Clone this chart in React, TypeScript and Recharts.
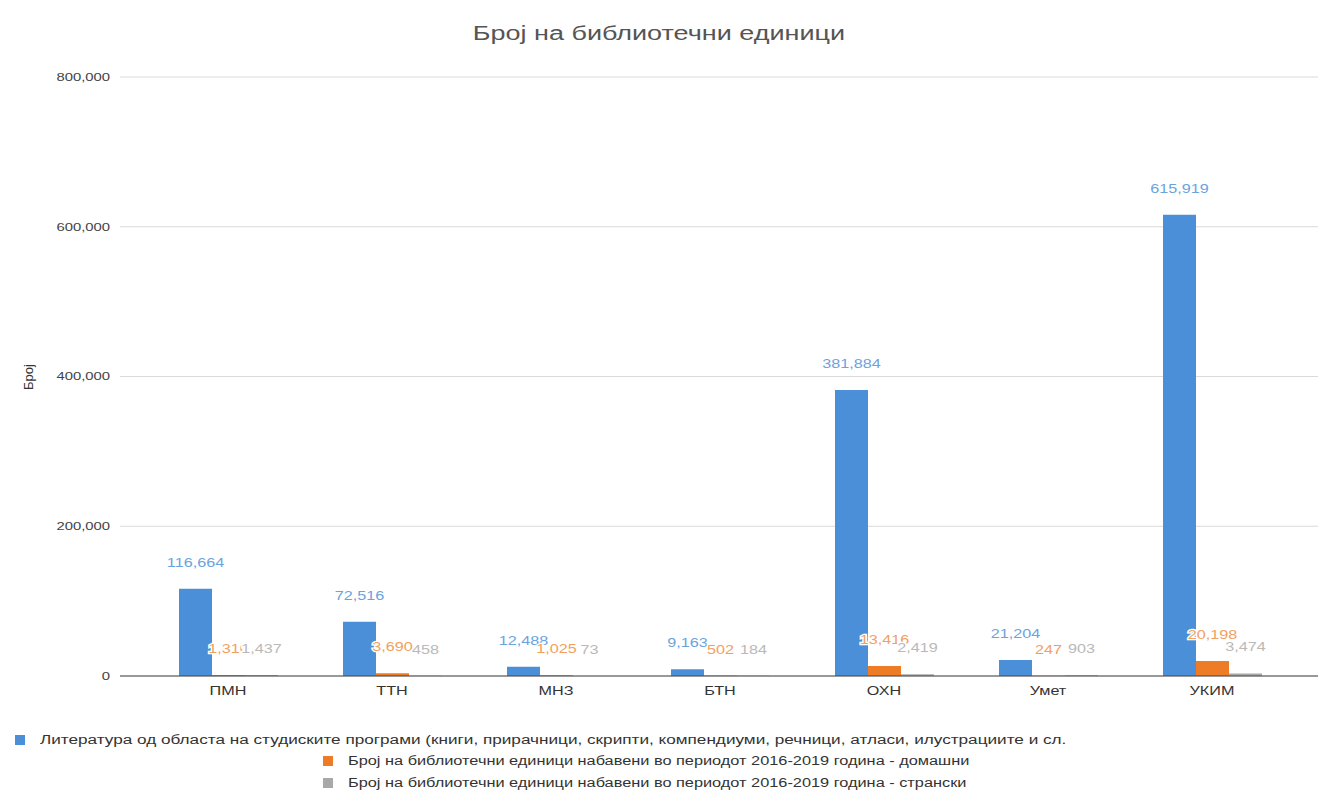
import React from 'react';
import { BarChart, Bar, XAxis, YAxis, CartesianGrid, LabelList } from 'recharts';

const categories = ['ПМН', 'ТТН', 'МНЗ', 'БТН', 'ОХН', 'Умет', 'УКИМ'];
const literature = [116664, 72516, 12488, 9163, 381884, 21204, 615919];
const domestic = [1310, 3690, 1025, 502, 13416, 247, 20198];
const foreign = [1437, 458, 73, 184, 2419, 903, 3474];
const yTicks = [0, 200000, 400000, 600000, 800000];

const seriesNames = [
    'Литература од областа на студиските програми (книги, прирачници, скрипти, компендиуми, речници, атласи, илустрациите и сл.',
    'Број на библиотечни единици набавени во периодот 2016-2019 година - домашни',
    'Број на библиотечни единици набавени во периодот 2016-2019 година - странски',
];
const barColors = ['#4a8fd8', '#ee7b25', '#a8a8a8'];
const labelColors = ['#6aa3e0', '#f2a05e', '#b9b9b9'];

const data = categories.map((name, i) => ({
    name,
    literature: literature[i],
    domestic: domestic[i],
    foreign: foreign[i],
}));

const SX = 1.35; // source picture is stretched horizontally
const FONT = '"Liberation Sans", Arial, sans-serif';
const fmt = (v: number) => v.toLocaleString('en-US');

const YTick = (props: any) => {
    const { x, y, payload } = props;
    return (
        <g transform={`translate(${x},${y}) scale(${SX},1)`}>
            <text x={0} y={0} dy="0.35em" textAnchor="end" fontSize={11} fill="#444" fontFamily={FONT}>
                {fmt(payload.value)}
            </text>
        </g>
    );
};

const XTick = (props: any) => {
    const { x, y, payload } = props;
    return (
        <g transform={`translate(${x},${y}) scale(${SX},1)`}>
            <text x={0} y={0} dy="0.9em" textAnchor="middle" fontSize={12} fill="#333" fontFamily={FONT}>
                {payload.value}
            </text>
        </g>
    );
};

// value labels sit above each bar, with a white halo like the original
const makeLabel = (color: string) => (props: any) => {
    const { x, y, width, value } = props;
    const cx = Number(x) + Number(width) / 2;
    return (
        <g transform={`translate(${cx},${Number(y) - 22}) scale(${SX},1)`}>
            <text
                x={0}
                y={0}
                textAnchor="middle"
                fontSize={12}
                fill={color}
                stroke="#fff"
                strokeWidth={2.5}
                paintOrder="stroke"
                fontFamily={FONT}
            >
                {fmt(value)}
            </text>
        </g>
    );
};

const legendRows = [
    { left: 15, top: 733, sx: 1.43 },
    { left: 323, top: 754, sx: 1.36 },
    { left: 323, top: 776, sx: 1.36 },
];

export default function App() {
    return (
        <div style={{ position: 'absolute', left: 0, top: 0, width: 1318, height: 796, background: '#fff', fontFamily: FONT }}>
            <div
                style={{
                    position: 'absolute',
                    top: 22,
                    left: 0,
                    width: 1318,
                    textAlign: 'center',
                    fontSize: 20,
                    color: '#555',
                }}
            >
                <span
                    style={{ display: 'inline-block', transform: `scaleX(${SX})`, transformOrigin: 'center center', whiteSpace: 'nowrap' }}
                >
                    Број на библиотечни единици
                </span>
            </div>
            <div
                style={{
                    position: 'absolute',
                    left: 28,
                    top: 377,
                    fontSize: 13,
                    color: '#333',
                    transform: 'translate(-50%,-50%) rotate(-90deg)',
                }}
            >
                Број
            </div>
            <BarChart
                width={1318}
                height={796}
                data={data}
                margin={{ top: 77, right: 0, bottom: 90, left: 0 }}
                barGap={0}
                barSize={33}
            >
                <CartesianGrid vertical={false} stroke="#dadada" />
                <XAxis
                    dataKey="name"
                    tick={<XTick />}
                    tickLine={false}
                    axisLine={{ stroke: '#444' }}
                    height={30}
                    padding={{ left: 26, right: 24 }}
                    interval={0}
                />
                <YAxis
                    width={120}
                    domain={[0, 800000]}
                    ticks={yTicks}
                    tick={<YTick />}
                    tickLine={false}
                    axisLine={false}
                    tickMargin={4}
                />
                <Bar dataKey="literature" fill={barColors[0]} isAnimationActive={false}>
                    <LabelList dataKey="literature" content={makeLabel(labelColors[0])} />
                </Bar>
                <Bar dataKey="domestic" fill={barColors[1]} isAnimationActive={false}>
                    <LabelList dataKey="domestic" content={makeLabel(labelColors[1])} />
                </Bar>
                <Bar dataKey="foreign" fill={barColors[2]} isAnimationActive={false}>
                    <LabelList dataKey="foreign" content={makeLabel(labelColors[2])} />
                </Bar>
            </BarChart>
            {legendRows.map((row, i) => (
                <div
                    key={i}
                    style={{ position: 'absolute', left: row.left, top: row.top, height: 14, display: 'flex', alignItems: 'center', fontSize: 12, color: '#333' }}
                >
                    <span style={{ width: 10, height: 10, background: barColors[i], display: 'inline-block', marginRight: 15 }} />
                    <span
                        style={{ display: 'inline-block', transform: `scaleX(${row.sx})`, transformOrigin: 'left center', whiteSpace: 'nowrap' }}
                    >
                        {seriesNames[i]}
                    </span>
                </div>
            ))}
        </div>
    );
}
